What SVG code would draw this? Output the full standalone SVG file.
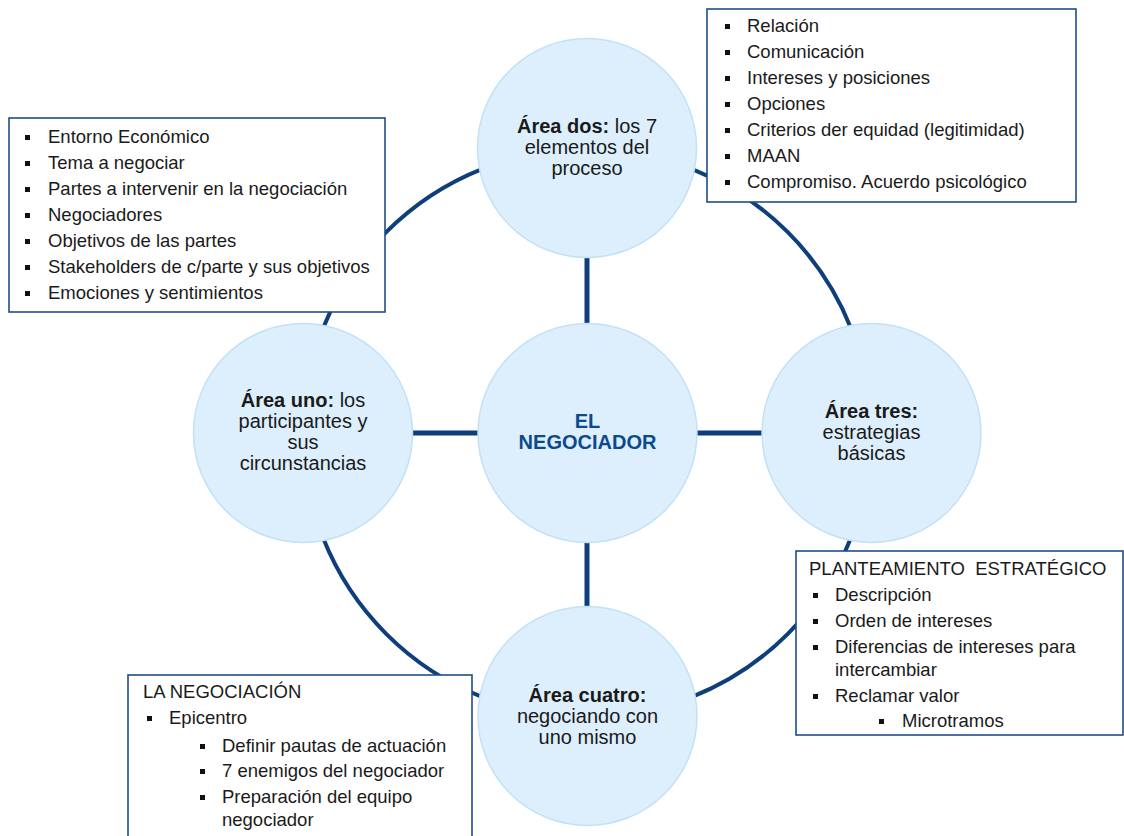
<svg xmlns="http://www.w3.org/2000/svg" width="1124" height="836" viewBox="0 0 1124 836">
  <style>
    .ring { fill: none; stroke: #0E3F7C; stroke-width: 4; }
    .spoke { stroke: #0E3F7C; stroke-width: 5; }
    .node { fill: #DDEFFC; stroke: #C2E1F7; stroke-width: 1.5; }
    .area { font-family: "Liberation Sans", Arial, sans-serif; font-size: 20px; fill: #1A1A1A; text-anchor: middle; }
    .area .b { font-weight: bold; }
    .core { font-family: "Liberation Sans", Arial, sans-serif; font-size: 20px; font-weight: bold; fill: #0B4A8C; text-anchor: middle; }
    .box { fill: #FFFFFF; stroke: #1F4E8C; stroke-width: 1.6; }
    .list { font-family: "Liberation Sans", Arial, sans-serif; font-size: 18.5px; fill: #1A1A1A; }
    .bul { fill: #111111; }
  </style>
  <defs>
    <rect id="sq" width="5" height="5"/>
  </defs>

  <!-- outer ring and spokes -->
  <g id="connectors">
    <circle class="ring" cx="587" cy="433" r="284"/>
    <line class="spoke" x1="587" y1="148" x2="587" y2="716"/>
    <line class="spoke" x1="303" y1="433" x2="871" y2="433"/>
  </g>

  <!-- circles -->
  <g id="node-centro">
    <circle class="node" cx="587.5" cy="433" r="109.5"/>
    <text class="core" x="587.5" y="428">EL</text>
    <text class="core" x="587.5" y="449">NEGOCIADOR</text>
  </g>
  <g id="node-area-dos">
    <circle class="node" cx="587" cy="148" r="109.5"/>
    <text class="area" x="587" y="133"><tspan class="b">Área dos:</tspan> los 7</text>
    <text class="area" x="587" y="154">elementos del</text>
    <text class="area" x="587" y="175">proceso</text>
  </g>
  <g id="node-area-uno">
    <circle class="node" cx="303" cy="433" r="109.5"/>
    <text class="area" x="303" y="407"><tspan class="b">Área uno:</tspan> los</text>
    <text class="area" x="303" y="428">participantes y</text>
    <text class="area" x="303" y="449">sus</text>
    <text class="area" x="303" y="470">circunstancias</text>
  </g>
  <g id="node-area-tres">
    <circle class="node" cx="871.5" cy="433" r="109.5"/>
    <text class="area" x="871.5" y="418"><tspan class="b">Área tres:</tspan></text>
    <text class="area" x="871.5" y="439">estrategias</text>
    <text class="area" x="871.5" y="460">básicas</text>
  </g>
  <g id="node-area-cuatro">
    <circle class="node" cx="587.5" cy="716" r="109.5"/>
    <text class="area" x="587.5" y="702"><tspan class="b">Área cuatro:</tspan></text>
    <text class="area" x="587.5" y="723">negociando con</text>
    <text class="area" x="587.5" y="744">uno mismo</text>
  </g>

  <!-- detail boxes -->
  <g id="box-participantes">
    <rect class="box" x="9" y="118" width="376" height="194"/>
    <g class="bul">
      <use href="#sq" x="25" y="135"/>
      <use href="#sq" x="25" y="161"/>
      <use href="#sq" x="25" y="187"/>
      <use href="#sq" x="25" y="213"/>
      <use href="#sq" x="25" y="239"/>
      <use href="#sq" x="25" y="265"/>
      <use href="#sq" x="25" y="291"/>
    </g>
    <g class="list">
      <text x="48" y="143">Entorno Económico</text>
      <text x="48" y="169">Tema a negociar</text>
      <text x="48" y="195">Partes a intervenir en la negociación</text>
      <text x="48" y="221">Negociadores</text>
      <text x="48" y="247">Objetivos de las partes</text>
      <text x="48" y="273">Stakeholders de c/parte y sus objetivos</text>
      <text x="48" y="299">Emociones y sentimientos</text>
    </g>
  </g>

  <g id="box-elementos">
    <rect class="box" x="707" y="9" width="369" height="193"/>
    <g class="bul">
      <use href="#sq" x="725" y="24"/>
      <use href="#sq" x="725" y="50"/>
      <use href="#sq" x="725" y="76"/>
      <use href="#sq" x="725" y="102"/>
      <use href="#sq" x="725" y="128"/>
      <use href="#sq" x="725" y="154"/>
      <use href="#sq" x="725" y="180"/>
    </g>
    <g class="list">
      <text x="747" y="32">Relación</text>
      <text x="747" y="58">Comunicación</text>
      <text x="747" y="84">Intereses y posiciones</text>
      <text x="747" y="110">Opciones</text>
      <text x="747" y="136">Criterios der equidad (legitimidad)</text>
      <text x="747" y="162">MAAN</text>
      <text x="747" y="188">Compromiso. Acuerdo psicológico</text>
    </g>
  </g>

  <g id="box-planteamiento">
    <rect class="box" x="796" y="551" width="327" height="184"/>
    <g class="bul">
      <use href="#sq" x="813" y="593"/>
      <use href="#sq" x="813" y="619"/>
      <use href="#sq" x="813" y="645"/>
      <use href="#sq" x="813" y="694"/>
      <use href="#sq" x="879" y="719"/>
    </g>
    <g class="list">
      <text x="809" y="575">PLANTEAMIENTO&#160; ESTRATÉGICO</text>
      <text x="835" y="601">Descripción</text>
      <text x="835" y="627">Orden de intereses</text>
      <text x="835" y="653">Diferencias de intereses para</text>
      <text x="835" y="676">intercambiar</text>
      <text x="835" y="702">Reclamar valor</text>
      <text x="902" y="727">Microtramos</text>
    </g>
  </g>

  <g id="box-negociacion">
    <rect class="box" x="128" y="675" width="344" height="170"/>
    <g class="bul">
      <use href="#sq" x="147" y="716"/>
      <use href="#sq" x="200" y="744"/>
      <use href="#sq" x="200" y="769"/>
      <use href="#sq" x="200" y="795"/>
    </g>
    <g class="list">
      <text x="143" y="698">LA NEGOCIACIÓN</text>
      <text x="169" y="724">Epicentro</text>
      <text x="222" y="752">Definir pautas de actuación</text>
      <text x="222" y="777">7 enemigos del negociador</text>
      <text x="222" y="803">Preparación del equipo</text>
      <text x="222" y="826">negociador</text>
    </g>
  </g>
</svg>
